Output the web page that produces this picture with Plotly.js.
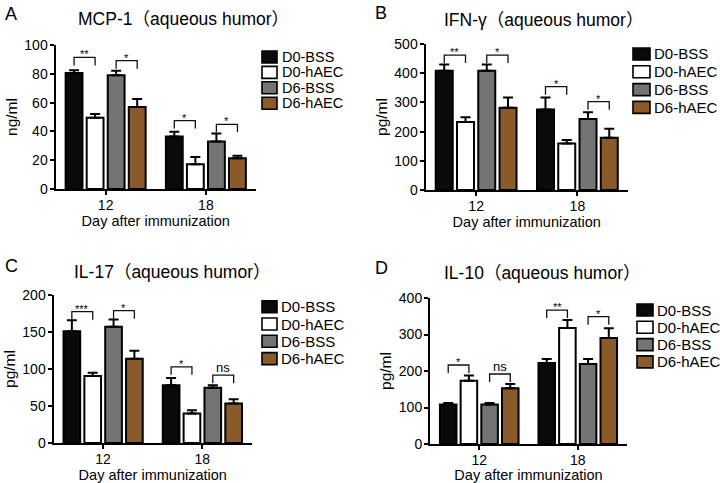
<!DOCTYPE html>
<html>
<head>
<meta charset="utf-8">
<script src="https://cdn.plot.ly/plotly-3.0.1.min.js"></script>
<style>html,body{margin:0;padding:0;background:#fff;}#chart{width:720px;height:483px;}</style>
</head>
<body>
<div id="chart"></div>
<script>
// ---------------- DATA ----------------
const categories = ['12', '18'];
const seriesNames = ['D0-BSS', 'D0-hAEC', 'D6-BSS', 'D6-hAEC'];
const seriesColors = ['#0a0a0a', '#ffffff', '#747474', '#8b5a2b'];

// each row = one series, values for day 12 and day 18
const mcp1Means = [[80.5, 36.5], [49.5, 17.2], [79, 33], [57, 21.3]];
const mcp1Errors = [[2, 3.3], [2.5, 5], [3.2, 5.5], [5.5, 1.8]];
const ifngMeans = [[408, 276], [233, 159], [408, 243], [282, 179]];
const ifngErrors = [[22, 41], [16, 12], [22, 23], [35, 31]];
const il17Means = [[151, 78], [90.5, 40], [157, 74.5], [114, 53.5]];
const il17Errors = [[15, 10], [4.5, 4.3], [10, 3.5], [10.5, 5.6]];
const il10Means = [[108, 222], [173, 318], [108, 219], [152.5, 290.5]];
const il10Errors = [[4.5, 11], [14.5, 22], [4.5, 14], [12, 26.5]];

// significance: order = [day12 (1 vs 2), day12 (3 vs 4), day18 (1 vs 2), day18 (3 vs 4)]
const mcp1SigLabels = ['**', '*', '*', '*'];
const mcp1SigLevels = [91.4, 89.1, 47.5, 44.9];
const ifngSigLabels = ['**', '*', '*', '*'];
const ifngSigLevels = [462, 462, 354, 302.5];
const il17SigLabels = ['***', '*', '*', 'ns'];
const il17SigLevels = [177.4, 178.8, 103, 91.6];
const il10SigLabels = ['*', 'ns', '**', '*'];
const il10SigLevels = [216.4, 191.8, 367, 348.9];

const panelTitles = ['MCP-1（aqueous humor）', 'IFN-γ（aqueous humor）', 'IL-17（aqueous humor）', 'IL-10（aqueous humor）'];
const panelLetters = ['A', 'B', 'C', 'D'];
const yTitles = ['ng/ml', 'pg/ml', 'pg/ml', 'pg/ml'];
const xTitle = 'Day after immunization';
const yMax = [100, 500, 200, 400];
const yStep = [20, 100, 50, 100];

// ---------------- LAYOUT CONFIG ----------------
const W = 720, H = 483;
const FONT = '"Liberation Sans", Arial, "Noto Sans CJK SC", sans-serif';
const BARGAP = 0.16, BARGROUPGAP = 0.2;
const px = x => x / W;
const py = y => 1 - y / H;

const panels = [
  { means: mcp1Means, errs: mcp1Errors, sigL: mcp1SigLabels, sigY: mcp1SigLevels,
    box: [55.5, 256, 45, 189], title: [76, 19], letter: [3, 14],
    leg: { x0: 262, x1: 277, y0: 57, dy: 15.4, tx: 280, fs: 14.5 } },
  { means: ifngMeans, errs: ifngErrors, sigL: ifngSigLabels, sigY: ifngSigLevels,
    box: [425.5, 628, 44, 190], title: [442, 20], letter: [373, 13],
    leg: { x0: 633, x1: 650, y0: 54, dy: 17.8, tx: 652, fs: 15 } },
  { means: il17Means, errs: il17Errors, sigL: il17SigLabels, sigY: il17SigLevels,
    box: [53.5, 252, 295, 443], title: [72, 271.5], letter: [3, 266],
    leg: { x0: 262, x1: 277, y0: 306.7, dy: 17.3, tx: 279, fs: 15 } },
  { means: il10Means, errs: il10Errors, sigL: il10SigLabels, sigY: il10SigLevels,
    box: [430, 627, 298, 444], title: [442, 273], letter: [373, 268],
    leg: { x0: 637, x1: 653, y0: 310, dy: 17.3, tx: 655, fs: 15 } }
];

const traces = [];
const shapes = [];
const annotations = [];
const layout = {
  width: W, height: H,
  margin: { l: 0, r: 0, t: 0, b: 0 },
  paper_bgcolor: '#ffffff', plot_bgcolor: 'rgba(0,0,0,0)',
  font: { family: FONT, color: '#000000' },
  barmode: 'group', bargap: BARGAP, bargroupgap: BARGROUPGAP,
  showlegend: false,
  shapes: shapes, annotations: annotations
};

const nS = seriesNames.length;
const slot = (1 - BARGAP) / nS;
const barCenter = (cat, i) => cat - (1 - BARGAP) / 2 + slot * (i + 0.5);

panels.forEach((p, k) => {
  const sfx = k === 0 ? '' : String(k + 1);
  const xa = 'x' + sfx, ya = 'y' + sfx;
  const [l, r, t, b] = p.box;

  layout['xaxis' + sfx] = {
    domain: [px(l), px(r)], anchor: ya,
    range: [-0.5, 1.5], tickvals: categories.map((c, i) => i), ticktext: categories,
    showline: true, linecolor: '#000', linewidth: 2,
    ticks: 'outside', ticklen: 4, tickwidth: 2, tickcolor: '#000', ticklabelstandoff: -2,
    showgrid: false, zeroline: false, fixedrange: true,
    tickfont: { size: 14, family: FONT, color: '#000' },
    title: { text: xTitle, font: { size: 14.5, family: FONT, color: '#000' }, standoff: 1 }
  };
  layout['yaxis' + sfx] = {
    domain: [py(b), py(t)], anchor: xa,
    range: [0, yMax[k]], dtick: yStep[k], tick0: 0,
    showline: true, linecolor: '#000', linewidth: 2,
    ticks: 'outside', ticklen: 4, tickwidth: 2, tickcolor: '#000', ticklabelstandoff: -1,
    showgrid: false, zeroline: false, fixedrange: true,
    tickfont: { size: 14, family: FONT, color: '#000' },
    title: { text: yTitles[k], font: { size: 15.5, family: FONT, color: '#000' }, standoff: 3 }
  };

  seriesNames.forEach((name, i) => {
    traces.push({
      type: 'bar', name: name, x: categories.map((c, j) => j), y: p.means[i],
      xaxis: xa, yaxis: ya,
      marker: { color: seriesColors[i], line: { color: '#000', width: 2 } },
      error_y: { type: 'data', symmetric: false, array: p.errs[i], arrayminus: p.means[i].map(() => 0),
                 color: '#000', thickness: 2, width: 5 },
      hoverinfo: 'skip'
    });
  });

  // significance brackets
  const legLen = yMax[k] * 8 / (b - t);
  p.sigL.forEach((lab, s) => {
    const cat = s < 2 ? 0 : 1;
    const i0 = (s % 2) * 2, i1 = i0 + 1;
    const x0 = barCenter(cat, i0), x1 = barCenter(cat, i1);
    const yl = p.sigY[s];
    shapes.push({
      type: 'path', xref: xa, yref: ya,
      path: `M${x0},${yl - legLen} L${x0},${yl} L${x1},${yl} L${x1},${yl - legLen}`,
      line: { color: '#111', width: 1.3 }
    });
    const isStar = lab.indexOf('*') >= 0;
    annotations.push({
      xref: xa, yref: ya, x: (x0 + x1) / 2, y: yl, text: lab, showarrow: false,
      xanchor: 'center', yanchor: 'bottom', yshift: isStar ? -5 : -2,
      font: { size: isStar ? 11 : 13, family: FONT, color: '#000000' }
    });
  });

  // panel title and letter
  annotations.push({ xref: 'paper', yref: 'paper', x: px(p.title[0]), y: py(p.title[1]),
    text: panelTitles[k], showarrow: false, xanchor: 'left', yanchor: 'middle',
    font: { size: 17.5, family: FONT, color: '#000' } });
  annotations.push({ xref: 'paper', yref: 'paper', x: px(p.letter[0]), y: py(p.letter[1]),
    text: panelLetters[k], showarrow: false, xanchor: 'left', yanchor: 'middle',
    font: { size: 18, family: FONT, color: '#000' } });

  // legend
  const g = p.leg;
  seriesNames.forEach((name, i) => {
    const yc = g.y0 + g.dy * i;
    shapes.push({ type: 'rect', xref: 'paper', yref: 'paper',
      x0: px(g.x0), x1: px(g.x1), y0: py(yc + 6), y1: py(yc - 6),
      fillcolor: seriesColors[i], line: { color: '#000', width: 1.6 } });
    annotations.push({ xref: 'paper', yref: 'paper', x: px(g.tx), y: py(yc),
      text: name, showarrow: false, xanchor: 'left', yanchor: 'middle',
      font: { size: g.fs, family: FONT, color: '#000' } });
  });
});

Plotly.newPlot('chart', traces, layout, { displayModeBar: false, staticPlot: true });
</script>
</body>
</html>
